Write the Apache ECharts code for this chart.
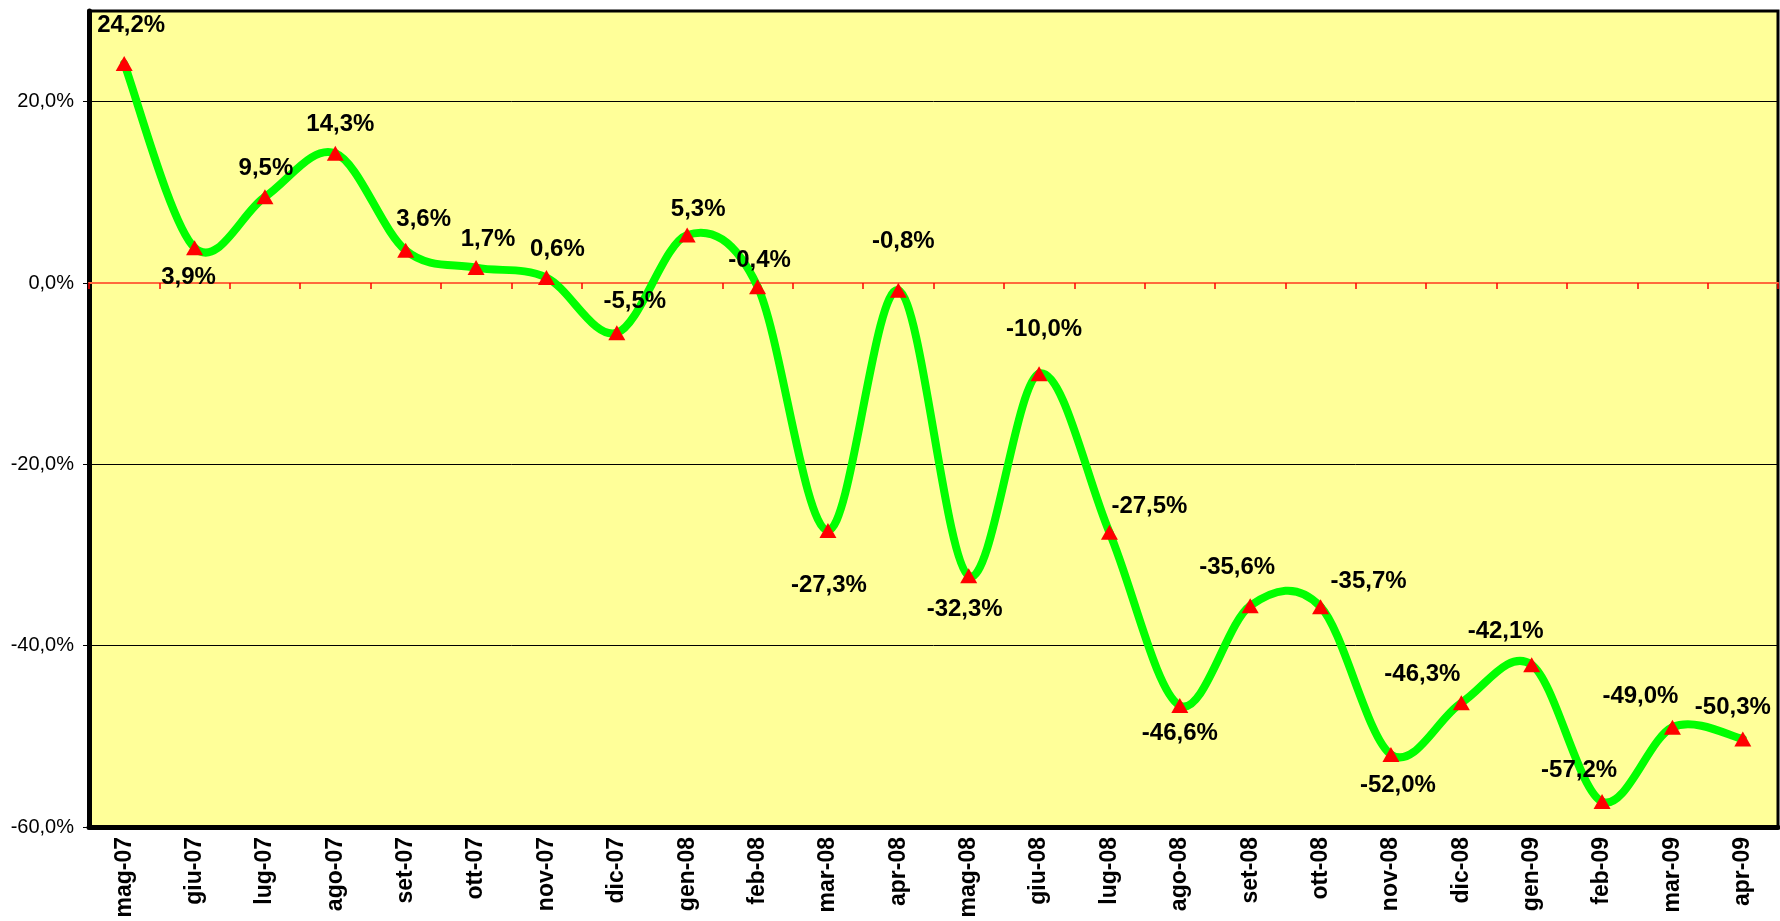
<!DOCTYPE html>
<html>
<head>
<meta charset="utf-8">
<script src="https://cdn.jsdelivr.net/npm/echarts@6/dist/echarts.min.js"></script>
<style>
html,body{margin:0;padding:0;background:#fff;}
#c{width:1780px;height:921px;}
</style>
</head>
<body>
<div id="c"></div>
<script>
const categories = ['mag-07','giu-07','lug-07','ago-07','set-07','ott-07','nov-07','dic-07',
  'gen-08','feb-08','mar-08','apr-08','mag-08','giu-08','lug-08','ago-08','set-08','ott-08',
  'nov-08','dic-08','gen-09','feb-09','mar-09','apr-09'];
const values = [24.2, 3.9, 9.5, 14.3, 3.6, 1.7, 0.6, -5.5,
  5.3, -0.4, -27.3, -0.8, -32.3, -10.0, -27.5, -46.6, -35.6, -35.7,
  -52.0, -46.3, -42.1, -57.2, -49.0, -50.3];
const yTicks = { min: -60, max: 30, interval: 20 };
// label placement (style only): offset of each value label from its point
const labelOffsets = [[7,-38],[-6,30],[1,-28],[5,-29],[18,-31],[12,-28],[11,-28],[18,-31],
  [11,-26],[2,-26],[1,55],[5,-49],[-4,34],[5,-44],[40,-26],[0,28],[-13,-38],[48,-25],
  [7,31],[-39,-28],[-26,-33],[-23,-31],[-32,-31],[-10,-32]];

const fmt = v => v.toFixed(1).replace('.', ',') + '%';
const FONT = "'Liberation Sans', Arial, sans-serif";

// Excel-style smoothed line: Catmull-Rom segments, positioned through the axes (api.coord)
function renderSegment(params, api) {
  const i = params.dataIndex;
  if (i >= values.length - 1) return null;
  const c = k => api.coord([Math.max(0, Math.min(values.length - 1, k)), values[Math.max(0, Math.min(values.length - 1, k))]]);
  const p0 = c(i - 1), p1 = c(i), p2 = c(i + 1), p3 = c(i + 2);
  return {
    type: 'bezierCurve',
    shape: {
      x1: p1[0], y1: p1[1],
      cpx1: p1[0] + (p2[0] - p0[0]) / 6, cpy1: p1[1] + (p2[1] - p0[1]) / 6,
      cpx2: p2[0] - (p3[0] - p1[0]) / 6, cpy2: p2[1] - (p3[1] - p1[1]) / 6,
      x2: p2[0], y2: p2[1]
    },
    style: { fill: null, stroke: '#00FF00', lineWidth: 8, lineCap: 'round' }
  };
}

const chart = echarts.init(document.getElementById('c'), null, {renderer: 'canvas'});
chart.setOption({
  animation: false,
  backgroundColor: '#ffffff',
  grid: {
    left: 89, right: 2, top: 11, bottom: 94,
    show: true, backgroundColor: '#FFFF99', borderColor: '#000', borderWidth: 3
  },
  xAxis: [{
    type: 'category', data: categories, position: 'bottom', boundaryGap: true,
    axisLine: { onZero: false, lineStyle: { color: '#000', width: 5 } },
    axisTick: { show: false },
    axisLabel: { rotate: 90, margin: 10, color: '#000', fontFamily: FONT, fontWeight: 'bold', fontSize: 23 },
    splitLine: { show: false }
  }, {
    type: 'category', data: categories, position: 'bottom', boundaryGap: true,
    axisLine: { onZero: true, onZeroAxisIndex: 0, lineStyle: { color: '#FF6A3D', width: 2 } },
    axisTick: { show: true, length: 6, lineStyle: { color: '#FF0000', width: 1.5 } },
    axisLabel: { show: false },
    splitLine: { show: false }
  }],
  yAxis: {
    type: 'value', min: yTicks.min, max: yTicks.max, interval: yTicks.interval,
    axisLine: { show: true, lineStyle: { color: '#000', width: 5 } },
    axisTick: { show: true, length: 6, lineStyle: { color: '#000', width: 1 } },
    axisLabel: { formatter: fmt, showMaxLabel: false, margin: 15, color: '#000', fontFamily: FONT, fontSize: 20 },
    splitLine: { show: true, lineStyle: { color: '#000', width: 1 } }
  },
  series: [{
    type: 'custom',
    xAxisIndex: 0, yAxisIndex: 0,
    data: values.map((v, i) => [i, v]),
    encode: { x: 0, y: 1 },
    renderItem: renderSegment,
    z: 3,
    silent: true
  }, {
    type: 'scatter',
    xAxisIndex: 0, yAxisIndex: 0,
    data: values,
    z: 5,
    symbol: 'triangle',
    symbolSize: [17, 15],
    itemStyle: { color: '#FF0000', opacity: 1 },
    label: {
      show: true, position: 'inside', align: 'center', verticalAlign: 'middle',
      formatter: p => fmt(p.value),
      color: '#000', fontFamily: FONT, fontWeight: 'bold', fontSize: 24
    },
    labelLayout: p => ({ dx: labelOffsets[p.dataIndex][0], dy: labelOffsets[p.dataIndex][1], hideOverlap: false })
  }]
});
</script>
</body>
</html>
